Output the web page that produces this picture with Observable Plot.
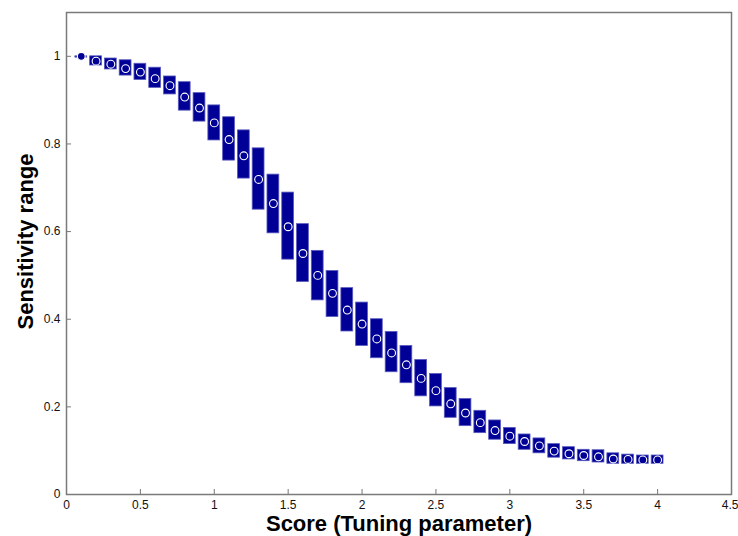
<!DOCTYPE html>
<html>
<head>
<meta charset="utf-8">
<script src="https://cdn.jsdelivr.net/npm/d3@7"></script>
<script src="https://cdn.jsdelivr.net/npm/@observablehq/plot@0.6"></script>
<style>
  html, body { margin: 0; padding: 0; background: #fff; }
  #chart svg { display: block; }
</style>
</head>
<body>
<div id="chart"></div>
<script>
// Tuning parameter values (score)
const scores = [0.1, 0.2, 0.3, 0.4, 0.5, 0.6, 0.7, 0.8, 0.9, 1.0,
                1.1, 1.2, 1.3, 1.4, 1.5, 1.6, 1.7, 1.8, 1.9, 2.0,
                2.1, 2.2, 2.3, 2.4, 2.5, 2.6, 2.7, 2.8, 2.9, 3.0,
                3.1, 3.2, 3.3, 3.4, 3.5, 3.6, 3.7, 3.8, 3.9, 4.0];

// Central sensitivity at each score
const sensMid = [1.000, 0.989, 0.982, 0.972, 0.964, 0.949, 0.933, 0.907, 0.882, 0.848,
                 0.810, 0.773, 0.719, 0.664, 0.611, 0.550, 0.500, 0.459, 0.421, 0.389,
                 0.355, 0.323, 0.296, 0.265, 0.237, 0.207, 0.186, 0.164, 0.146, 0.133,
                 0.121, 0.111, 0.099, 0.093, 0.089, 0.086, 0.081, 0.080, 0.079, 0.079];

// Lower end of the sensitivity range
const sensLow = [0.997, 0.979, 0.970, 0.956, 0.946, 0.928, 0.913, 0.876, 0.851, 0.808,
                 0.762, 0.721, 0.650, 0.596, 0.536, 0.485, 0.443, 0.405, 0.372, 0.339,
                 0.311, 0.279, 0.254, 0.224, 0.201, 0.175, 0.156, 0.140, 0.125, 0.115,
                 0.102, 0.094, 0.084, 0.080, 0.076, 0.073, 0.070, 0.070, 0.070, 0.070];

// Upper end of the sensitivity range
const sensHigh = [1.000, 1.000, 0.995, 0.991, 0.983, 0.974, 0.954, 0.941, 0.916, 0.888,
                  0.861, 0.831, 0.790, 0.730, 0.689, 0.617, 0.556, 0.510, 0.471, 0.438,
                  0.400, 0.371, 0.339, 0.307, 0.275, 0.243, 0.218, 0.191, 0.169, 0.152,
                  0.137, 0.128, 0.115, 0.108, 0.102, 0.101, 0.094, 0.091, 0.089, 0.089];

const xTicks = [0, 0.5, 1, 1.5, 2, 2.5, 3, 3.5, 4];
const xTickLast = [4.5]; // sits at the right edge, so it is anchored at its end
const yTicks = [0, 0.2, 0.4, 0.6, 0.8, 1];

const rows = scores.map((s, i) => ({score: s, mid: sensMid[i], low: sensLow[i], high: sensHigh[i]}));

const halfWidth = 0.04; // half the width of each range box, in score units
const navy = "#000096";
const font = "'Liberation Sans', Arial, sans-serif";

const chart = Plot.plot({
  width: 738,
  height: 536,
  marginLeft: 66,
  marginRight: 7,
  marginTop: 12,
  marginBottom: 42,
  style: {fontFamily: font, fontSize: "12px", color: "#111", background: "#fff"},
  x: {domain: [0, 4.5], label: null},
  y: {domain: [0, 1.1], label: null},
  marks: [
    Plot.rect(rows, {
      x1: d => d.score - halfWidth,
      x2: d => d.score + halfWidth,
      y1: "low",
      y2: "high",
      fill: navy,
      stroke: "#5a5abf",
      strokeWidth: 0.8
    }),
    Plot.dot(rows, {x: "score", y: "mid", r: 3.9, fill: navy, stroke: "#fff", strokeWidth: 1.1}),
    Plot.axisX({ticks: xTicks, tickFormat: d => String(d), tickSize: -5, tickPadding: 11, stroke: "#777", label: null}),
    Plot.axisX({ticks: xTickLast, tickFormat: d => String(d), tickSize: 0, tickPadding: 6, textAnchor: "end", dx: 7, label: null}),
    Plot.axisY({ticks: yTicks, tickFormat: d => String(d), tickSize: -5, tickPadding: 11, stroke: "#777", label: null}),
    Plot.frame({stroke: "#7a7a7a", strokeWidth: 1.5}),
    Plot.text(["Score (Tuning parameter)"], {
      frameAnchor: "bottom", dy: 29, lineAnchor: "middle", textAnchor: "middle",
      fontSize: 22, fontWeight: "bold", fill: "#000"
    }),
    Plot.text(["Sensitivity range"], {
      frameAnchor: "left", dx: -41, dy: -12, rotate: -90, lineAnchor: "middle", textAnchor: "middle",
      fontSize: 22, fontWeight: "bold", fill: "#000"
    })
  ]
});

document.getElementById("chart").appendChild(chart);
</script>
</body>
</html>
